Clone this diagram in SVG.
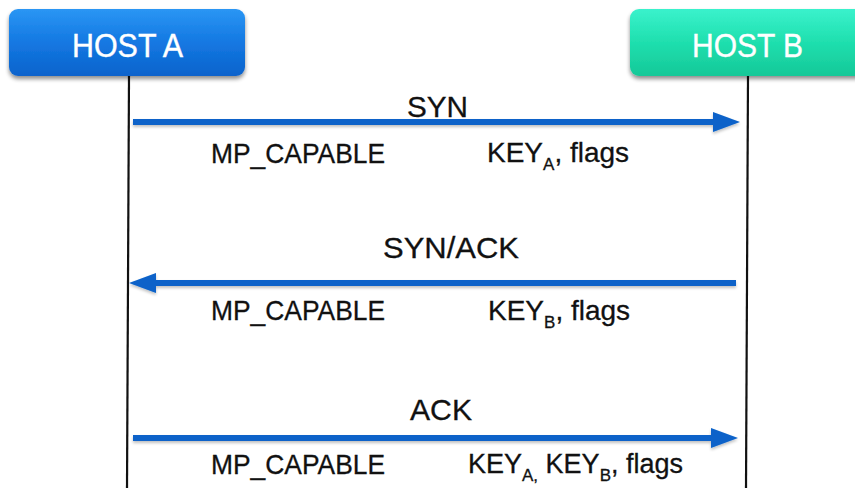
<svg xmlns="http://www.w3.org/2000/svg" width="855" height="488" viewBox="0 0 855 488">
  <defs>
    <linearGradient id="gradA" x1="0" y1="0" x2="0" y2="1">
      <stop offset="0" stop-color="#2a96f4"/>
      <stop offset="0.5" stop-color="#1478e2"/>
      <stop offset="1" stop-color="#0b63cc"/>
    </linearGradient>
    <linearGradient id="gradB" x1="0" y1="0" x2="0" y2="1">
      <stop offset="0" stop-color="#3af2cc"/>
      <stop offset="0.5" stop-color="#1fdfae"/>
      <stop offset="1" stop-color="#15c898"/>
    </linearGradient>
    <filter id="shadow" x="-10%" y="-20%" width="120%" height="160%">
      <feGaussianBlur in="SourceAlpha" stdDeviation="2"/>
      <feOffset dx="0" dy="3" result="b"/>
      <feComponentTransfer><feFuncA type="linear" slope="0.45"/></feComponentTransfer>
      <feMerge><feMergeNode/><feMergeNode in="SourceGraphic"/></feMerge>
    </filter>
    <filter id="glow" x="-5%" y="-100%" width="110%" height="300%">
      <feGaussianBlur in="SourceAlpha" stdDeviation="1.5"/>
      <feOffset dx="0" dy="2" result="b"/>
      <feComponentTransfer><feFuncA type="linear" slope="0.25"/></feComponentTransfer>
      <feMerge><feMergeNode/><feMergeNode in="SourceGraphic"/></feMerge>
    </filter>
  </defs>
  <style>
    .host { font-family: "Liberation Sans", Arial, sans-serif; font-size: 33px; fill: #ffffff; stroke: #ffffff; stroke-width: 0.4; }
    .head { font-family: "Liberation Sans", Arial, sans-serif; font-size: 30px; fill: #111111; stroke: #111111; stroke-width: 0.3; }
    .lbl { font-family: "Liberation Sans", Arial, sans-serif; font-size: 28px; fill: #111111; stroke: #111111; stroke-width: 0.3; }
    .sub { font-size: 17px; }
    .life { stroke: #111111; stroke-width: 2.2; fill: none; }
    .msg { stroke: #0a62c9; stroke-width: 6; fill: none; }
    .head-fill { fill: #0a62c9; }
  </style>
  <rect width="855" height="488" fill="#ffffff"/>

  <!-- lifelines -->
  <g id="lifelines">
    <line class="life" x1="129" y1="76" x2="127" y2="488"/>
    <line class="life" x1="748" y1="76" x2="746" y2="488"/>
  </g>

  <!-- hosts -->
  <g id="host-a">
    <rect x="9" y="9" width="236" height="67" rx="9" fill="url(#gradA)" filter="url(#shadow)"/>
    <text class="host" x="72" y="57" textLength="111" lengthAdjust="spacingAndGlyphs">HOST A</text>
  </g>
  <g id="host-b">
    <rect x="630" y="9" width="236" height="67" rx="9" fill="url(#gradB)" filter="url(#shadow)"/>
    <text class="host" x="692" y="57" textLength="111" lengthAdjust="spacingAndGlyphs">HOST B</text>
  </g>

  <!-- messages -->
  <g id="connectors" filter="url(#glow)">
    <line class="msg" x1="133" y1="122" x2="716" y2="122"/>
    <polygon class="head-fill" points="740,122 713,112 713,132"/>
    <line class="msg" x1="153" y1="283" x2="736" y2="283"/>
    <polygon class="head-fill" points="129,283 156,273 156,293"/>
    <line class="msg" x1="133" y1="438" x2="714" y2="438"/>
    <polygon class="head-fill" points="738,438 711,428 711,448"/>
  </g>

  <!-- SYN -->
  <g id="syn-labels">
    <text class="head" x="407" y="117" textLength="61" lengthAdjust="spacingAndGlyphs">SYN</text>
    <text class="lbl" x="211" y="163" textLength="174" lengthAdjust="spacingAndGlyphs">MP_CAPABLE</text>
    <text class="lbl" x="487" y="162">KEY<tspan class="sub" dy="8">A</tspan><tspan dy="-8">, flags</tspan></text>
  </g>

  <!-- SYN/ACK -->
  <g id="synack-labels">
    <text class="head" x="383" y="258" textLength="136" lengthAdjust="spacingAndGlyphs">SYN/ACK</text>
    <text class="lbl" x="211" y="320" textLength="174" lengthAdjust="spacingAndGlyphs">MP_CAPABLE</text>
    <text class="lbl" x="488" y="320">KEY<tspan class="sub" dy="8">B</tspan><tspan dy="-8">, flags</tspan></text>
  </g>

  <!-- ACK -->
  <g id="ack-labels">
    <text class="head" x="410" y="420" textLength="62" lengthAdjust="spacingAndGlyphs">ACK</text>
    <text class="lbl" x="211" y="474" textLength="174" lengthAdjust="spacingAndGlyphs">MP_CAPABLE</text>
    <text class="lbl" x="468" y="473" style="font-size:27px">KEY<tspan class="sub" dy="8">A,</tspan><tspan dy="-8"> KEY</tspan><tspan class="sub" dy="8">B</tspan><tspan dy="-8">, flags</tspan></text>
  </g>
</svg>
